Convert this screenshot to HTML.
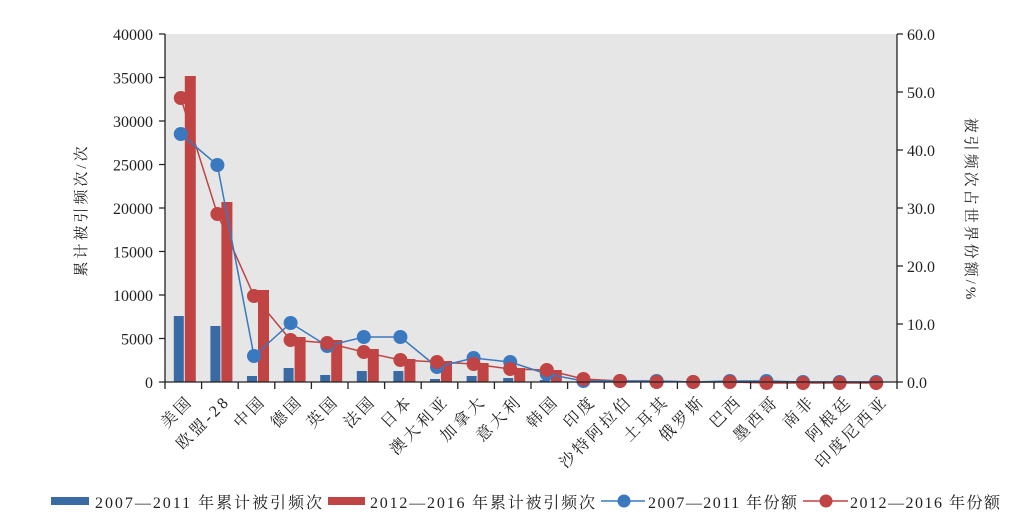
<!DOCTYPE html>
<html><head><meta charset="utf-8"><style>
body{margin:0;background:#fff}
svg{display:block;font-family:"Liberation Serif","Noto Serif CJK SC",serif;}
</style></head><body>
<svg width="1033" height="523" viewBox="0 0 1033 523" xmlns="http://www.w3.org/2000/svg">
<rect x="165" y="34" width="732" height="348" fill="#e6e6e6"/>
<g fill="#3a6aa3">
<rect x="173.8" y="316" width="10" height="66"/>
<rect x="210.4" y="326" width="10" height="56"/>
<rect x="247" y="376" width="10" height="6"/>
<rect x="283.6" y="368" width="10" height="14"/>
<rect x="320.2" y="375" width="10" height="7"/>
<rect x="356.8" y="371" width="10" height="11"/>
<rect x="393.4" y="371" width="10" height="11"/>
<rect x="430" y="379" width="10" height="3"/>
<rect x="466.6" y="376" width="10" height="6"/>
<rect x="503.2" y="378" width="10" height="4"/>
<rect x="539.8" y="380" width="10" height="2"/>
<rect x="576.4" y="381" width="10" height="1"/>
</g>
<g fill="#c04444">
<rect x="184.8" y="76" width="11" height="306"/>
<rect x="221.4" y="202" width="11" height="180"/>
<rect x="258" y="290" width="11" height="92"/>
<rect x="294.6" y="337" width="11" height="45"/>
<rect x="331.2" y="340" width="11" height="42"/>
<rect x="367.8" y="349" width="11" height="33"/>
<rect x="404.4" y="359" width="11" height="23"/>
<rect x="441" y="361" width="11" height="21"/>
<rect x="477.6" y="363" width="11" height="19"/>
<rect x="514.2" y="368" width="11" height="14"/>
<rect x="550.8" y="370" width="11" height="12"/>
<rect x="587.4" y="379" width="11" height="3"/>
<rect x="624" y="380.5" width="11" height="1.5"/>
</g>
<polyline fill="none" stroke="#c04444" stroke-width="1.5" points="180.8,98 217.4,214 254,296 290.6,340 327.2,343 363.8,352 400.4,360 437,362 473.6,364 510.2,369 546.8,370 583.4,379 620,381 656.6,381 693.2,382 729.8,382 766.4,383 803,383 839.6,383 876.2,383"/>
<polyline fill="none" stroke="#3a78c0" stroke-width="1.5" points="180.8,134 217.4,165 254,356 290.6,323 327.2,346 363.8,337 400.4,337 437,367 473.6,358 510.2,362 546.8,374 583.4,381 620,381 656.6,381 693.2,382 729.8,381 766.4,381 803,382 839.6,382 876.2,382"/>
<g fill="#3a78c0">
<circle cx="180.8" cy="134" r="7"/><circle cx="217.4" cy="165" r="7"/><circle cx="254" cy="356" r="7"/><circle cx="290.6" cy="323" r="7"/><circle cx="327.2" cy="346" r="7"/><circle cx="363.8" cy="337" r="7"/><circle cx="400.4" cy="337" r="7"/><circle cx="437" cy="367" r="7"/><circle cx="473.6" cy="358" r="7"/><circle cx="510.2" cy="362" r="7"/><circle cx="546.8" cy="374" r="7"/><circle cx="583.4" cy="381" r="7"/><circle cx="620" cy="381" r="7"/><circle cx="656.6" cy="381" r="7"/><circle cx="693.2" cy="382" r="7"/><circle cx="729.8" cy="381" r="7"/><circle cx="766.4" cy="381" r="7"/><circle cx="803" cy="382" r="7"/><circle cx="839.6" cy="382" r="7"/><circle cx="876.2" cy="382" r="7"/>
</g>
<g fill="#c04444">
<circle cx="180.8" cy="98" r="7"/><circle cx="217.4" cy="214" r="7"/><circle cx="254" cy="296" r="7"/><circle cx="290.6" cy="340" r="7"/><circle cx="327.2" cy="343" r="7"/><circle cx="363.8" cy="352" r="7"/><circle cx="400.4" cy="360" r="7"/><circle cx="437" cy="362" r="7"/><circle cx="473.6" cy="364" r="7"/><circle cx="510.2" cy="369" r="7"/><circle cx="546.8" cy="370" r="7"/><circle cx="583.4" cy="379" r="7"/><circle cx="620" cy="381" r="7"/><circle cx="656.6" cy="382" r="7"/><circle cx="693.2" cy="382" r="7"/><circle cx="729.8" cy="382" r="7"/><circle cx="766.4" cy="383" r="7"/><circle cx="803" cy="383" r="7"/><circle cx="839.6" cy="383" r="7"/><circle cx="876.2" cy="383" r="7"/>
</g>
<g stroke="#222" stroke-width="1.3" fill="none">
<line x1="165" y1="34" x2="165" y2="389"/>
<line x1="897" y1="34" x2="897" y2="389"/>
<line x1="165" y1="382" x2="897" y2="382"/>
<path d="M159 34h6M159 77.5h6M159 121h6M159 164.5h6M159 208h6M159 251.5h6M159 295h6M159 338.5h6M159 382h6"/>
<path d="M897 34h6M897 92h6M897 150h6M897 208h6M897 266h6M897 324h6M897 382h6"/>
<path d="M201.6 382v7M238.2 382v7M274.8 382v7M311.4 382v7M348 382v7M384.6 382v7M421.2 382v7M457.8 382v7M494.4 382v7M531 382v7M567.6 382v7M604.2 382v7M640.8 382v7M677.4 382v7M714 382v7M750.6 382v7M787.2 382v7M823.8 382v7M860.4 382v7"/>
</g>
<g font-size="16" fill="#222" text-anchor="end">
<text x="153" y="40">40000</text><text x="153" y="83.5">35000</text><text x="153" y="127">30000</text><text x="153" y="170.5">25000</text><text x="153" y="214">20000</text><text x="153" y="257.5">15000</text><text x="153" y="301">10000</text><text x="153" y="344.5">5000</text><text x="153" y="388">0</text>
</g>
<g font-size="16" fill="#222">
<text x="907" y="40">60.0</text><text x="907" y="98">50.0</text><text x="907" y="156">40.0</text><text x="907" y="214">30.0</text><text x="907" y="272">20.0</text><text x="907" y="330">10.0</text><text x="907" y="388">0.0</text>
</g>
<text transform="translate(86,210) rotate(-90)" text-anchor="middle" font-size="15" fill="#222" letter-spacing="3">累计被引频次/次</text>
<text transform="translate(966,210) rotate(90)" text-anchor="middle" font-size="15" fill="#222" letter-spacing="3">被引频次占世界份额/%</text>
<g font-size="16" fill="#222" text-anchor="end" letter-spacing="3">
<text transform="translate(194,402) rotate(-45)">美国</text>
<text transform="translate(231,402) rotate(-45)">欧盟-28</text>
<text transform="translate(267,402) rotate(-45)">中国</text>
<text transform="translate(304,402) rotate(-45)">德国</text>
<text transform="translate(340,402) rotate(-45)">英国</text>
<text transform="translate(377,402) rotate(-45)">法国</text>
<text transform="translate(414,402) rotate(-45)">日本</text>
<text transform="translate(450,402) rotate(-45)">澳大利亚</text>
<text transform="translate(487,402) rotate(-45)">加拿大</text>
<text transform="translate(523,402) rotate(-45)">意大利</text>
<text transform="translate(560,402) rotate(-45)">韩国</text>
<text transform="translate(597,402) rotate(-45)">印度</text>
<text transform="translate(633,402) rotate(-45)">沙特阿拉伯</text>
<text transform="translate(670,402) rotate(-45)">土耳其</text>
<text transform="translate(706,402) rotate(-45)">俄罗斯</text>
<text transform="translate(743,402) rotate(-45)">巴西</text>
<text transform="translate(780,402) rotate(-45)">墨西哥</text>
<text transform="translate(816,402) rotate(-45)">南非</text>
<text transform="translate(853,402) rotate(-45)">阿根廷</text>
<text transform="translate(889,402) rotate(-45)">印度尼西亚</text>
</g>
<rect x="51" y="497" width="38" height="8" fill="#3a6aa3"/>
<text x="95" y="508" font-size="16" fill="#222" textLength="227" lengthAdjust="spacing">2007—2011 年累计被引频次</text>
<rect x="328" y="497" width="37" height="8" fill="#c04444"/>
<text x="370" y="508" font-size="16" fill="#222" textLength="225" lengthAdjust="spacing">2012—2016 年累计被引频次</text>
<line x1="601" y1="501" x2="645" y2="501" stroke="#3a78c0" stroke-width="1.5"/>
<circle cx="624" cy="501" r="6.5" fill="#3a78c0"/>
<text x="648" y="508" font-size="16" fill="#222" textLength="149" lengthAdjust="spacing">2007—2011 年份额</text>
<line x1="803" y1="501" x2="848" y2="501" stroke="#c04444" stroke-width="1.5"/>
<circle cx="826" cy="501" r="6.5" fill="#c04444"/>
<text x="850" y="508" font-size="16" fill="#222" textLength="150" lengthAdjust="spacing">2012—2016 年份额</text>
</svg>
</body></html>
